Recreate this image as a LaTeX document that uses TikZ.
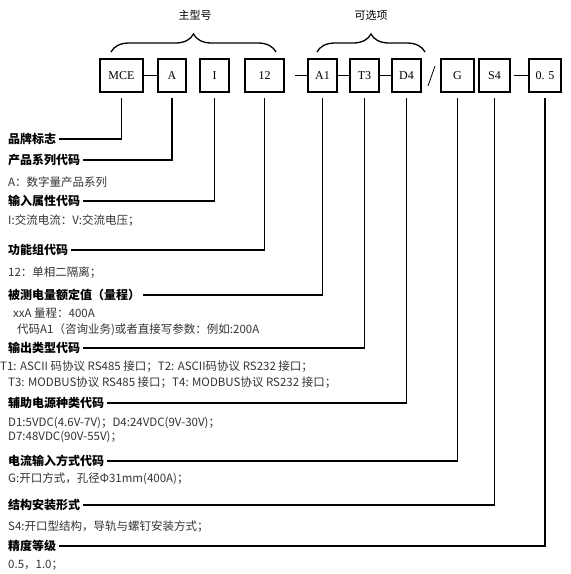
\documentclass[tikz,border=0pt]{standalone}
\usepackage{fontspec}
\setmainfont{Liberation Serif}
\newfontfamily\cjk{Noto Sans CJK SC}
\usetikzlibrary{decorations.pathreplacing}

\begin{document}
\begin{tikzpicture}[x=1pt, y=-1pt,
	codebox/.style={draw, line width=1.3pt, minimum height=33pt, inner sep=1pt, font=\fontsize{12}{12}\selectfont},
	head/.style={anchor=west, inner xsep=3pt, inner ysep=0pt, font=\cjk\bfseries\fontsize{12}{14}\selectfont},
	note/.style={anchor=west, inner sep=0pt, text=black!80, font=\cjk\fontsize{11.5}{13}\selectfont},
	lead/.style={line width=1.3pt, shorten >=5pt},
	link/.style={line width=1.3pt},
	group/.style={line width=1.3pt, decorate, decoration={brace, amplitude=18pt}}]
	\useasboundingbox (0,0) rectangle (571,574);
	% code boxes
	\node[codebox, minimum width=43pt] (mce) at (121.5,75.5) {MCE};
	\node[codebox, minimum width=28pt] (a) at (172,75.5) {A};
	\node[codebox, minimum width=29pt] (i) at (214.5,75.5) {I};
	\node[codebox, minimum width=39pt] (n12) at (264.5,75.5) {12};
	\node[codebox, minimum width=29pt] (a1) at (322.5,75.5) {A1};
	\node[codebox, minimum width=29pt] (t3) at (364.5,75.5) {T3};
	\node[codebox, minimum width=29pt] (d4) at (406.5,75.5) {D4};
	\node[codebox, minimum width=33pt] (g) at (457.5,75.5) {G};
	\node[codebox, minimum width=31pt] (s4) at (494.5,75.5) {S4};
	\node[codebox, minimum width=32pt] (p5) at (545,75.5) {0. 5};
	\draw[link] (mce) -- (a);
	\coordinate (dash) at (295,75.5);
	\draw[link] (dash) -- (a1);
	\draw[link] (a1) -- (t3);
	\draw[link] (t3) -- (d4);
	\draw[line width=0.8pt] (435,66) -- (428,86);
	\draw[link, shorten <=3pt] (s4) -- (p5);
	% braces
	\draw[group] (111,52) -- (276,52);
	\node[font=\cjk\fontsize{11}{11}\selectfont] (main) at (195,15) {主型号};
	\draw[group] (317,52) -- (425,52);
	\node[font=\cjk\fontsize{11}{11}\selectfont] (opt) at (371,15) {可选项};
	% headings
	\node[head] (brand) at (5,139) {品牌标志};
	\node[head] (series) at (5,160) {产品系列代码};
	\node[note] at (8,182) {A：数字量产品系列};
	\node[head] (input) at (5,201) {输入属性代码};
	\node[note] at (8,221) {I:交流电流：V:交流电压；};
	\node[head] (func) at (5,250) {功能组代码};
	\node[note] at (8,273) {12：单相二隔离；};
	\node[head] (range) at (5,295) {被测电量额定值（量程）};
	\node[note] at (13,313) {xxA 量程：400A};
	\node[note] at (17,330) {代码A1（咨询业务)或者直接写参数：例如:200A};
	\node[head] (output) at (5,348) {输出类型代码};
	\node[note] at (0,367) {T1: ASCII 码协议 RS485 接口；T2: ASCII码协议 RS232 接口；};
	\node[note] at (8,383) {T3: MODBUS协议 RS485 接口；T4: MODBUS协议 RS232 接口；};
	\node[head] (aux) at (5,403) {辅助电源种类代码};
	\node[note] at (8,423) {D1:5VDC(4.6V-7V)；D4:24VDC(9V-30V)；};
	\node[note] at (8,437) {D7:48VDC(90V-55V)；};
	\node[head] (current) at (5,461) {电流输入方式代码};
	\node[note] at (8,479) {G:开口方式，孔径Φ31mm(400A)；};
	\node[head] (struct) at (5,505) {结构安装形式};
	\node[note] at (8,527) {S4:开口型结构，导轨与螺钉安装方式；};
	\node[head] (prec) at (5,546) {精度等级};
	\node[note] at (8,565) {0.5，1.0；};
	% leader lines
	\draw[lead] (brand.east) -| (mce.south);
	\draw[lead] (series.east) -| (a.south);
	\draw[lead] (input.east) -| (i.south);
	\draw[lead] (func.east) -| (n12.south);
	\draw[lead] (range.east) -| (a1.south);
	\draw[lead] (output.east) -| (t3.south);
	\draw[lead] (aux.east) -| (d4.south);
	\draw[lead] (current.east) -| (g.south);
	\draw[lead] (struct.east) -| (s4.south);
	\draw[lead] (prec.east) -| (p5.south);
\end{tikzpicture}
\end{document}
